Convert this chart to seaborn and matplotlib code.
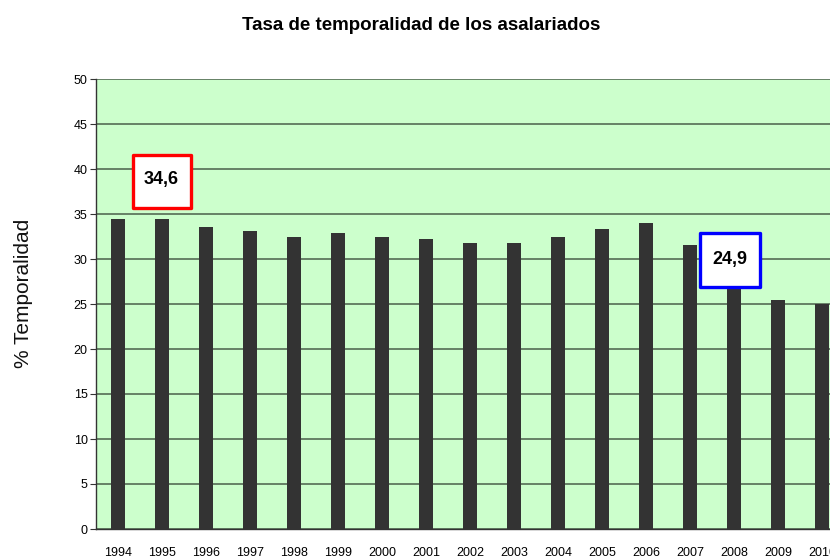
import pandas as pd
import seaborn as sns
import matplotlib.pyplot as plt
from matplotlib.patches import Rectangle
from matplotlib.ticker import FixedLocator

years = [str(y) for y in range(1994, 2011)]
tasa = [34.5, 34.5, 33.6, 33.1, 32.5, 32.9, 32.5, 32.2, 31.8, 31.8,
        32.5, 33.3, 34.0, 31.6, 29.3, 25.4, 25.0]

df = pd.DataFrame({'anio': years, 'tasa': tasa})

# callouts: label, text position, box (x0, y0, w, h) in data units, colour
callouts = [
    ('34,6', (0.99, 38.8), (0.33, 35.7, 1.32, 5.9), '#ff0000'),
    ('24,9', (13.9, 30.0), (13.23, 26.9, 1.36, 6.0), '#0000ff'),
]

sns.set_style('white')
plt.rcParams['font.family'] = ['Liberation Sans', 'DejaVu Sans']
plt.rcParams['text.color'] = 'black'

fig = plt.figure(figsize=(8.3, 5.58), dpi=100)
ax = fig.add_axes([96 / 830, 29 / 558, 748 / 830, 450 / 558])
ax.set_facecolor('#ccffcc')

sns.barplot(data=df, x='anio', y='tasa', color='#333333', width=0.3,
            saturation=1, linewidth=0, edgecolor='none', ax=ax, zorder=3)

ax.set_xlim(-0.5, len(years) - 0.5)
ax.set_ylim(0, 50)
ax.set_yticks(range(0, 51, 5))
ax.yaxis.grid(True, color='#4a5f4a', linewidth=1.1, zorder=0)
ax.set_axisbelow(True)
ax.xaxis.set_minor_locator(FixedLocator([i - 0.5 for i in range(len(years) + 1)]))
ax.tick_params(axis='x', which='major', length=0, pad=13, labelsize=9, labelcolor='black')
ax.tick_params(axis='x', which='minor', length=4, width=0.8, color='#333333', direction='out')
ax.tick_params(axis='y', length=4, width=0.8, color='#333333', direction='out',
               left=True, labelsize=9, labelcolor='black', pad=2)

for s in ['top', 'right']:
    ax.spines[s].set_visible(False)
for s in ['left', 'bottom']:
    ax.spines[s].set_color('#333333')
    ax.spines[s].set_linewidth(1.0)

ax.set_xlabel('')
ax.set_ylabel('% Temporalidad', fontsize=15, color='#111111')
ax.yaxis.set_label_coords(-0.084, 0.524)

for label, (tx, ty), (bx, by, bw, bh), col in callouts:
    ax.add_patch(Rectangle((bx, by), bw, bh, facecolor='white', edgecolor=col,
                           linewidth=2.4, joinstyle='round', zorder=5))
    ax.text(tx, ty, label, ha='center', va='center', fontsize=13,
            fontweight='bold', color='black', zorder=6)

fig.text(0.507, 0.955, 'Tasa de temporalidad de los asalariados', ha='center',
         va='center', fontsize=13.5, fontweight='bold', color='black')

fig.savefig('out.png', dpi=100)
